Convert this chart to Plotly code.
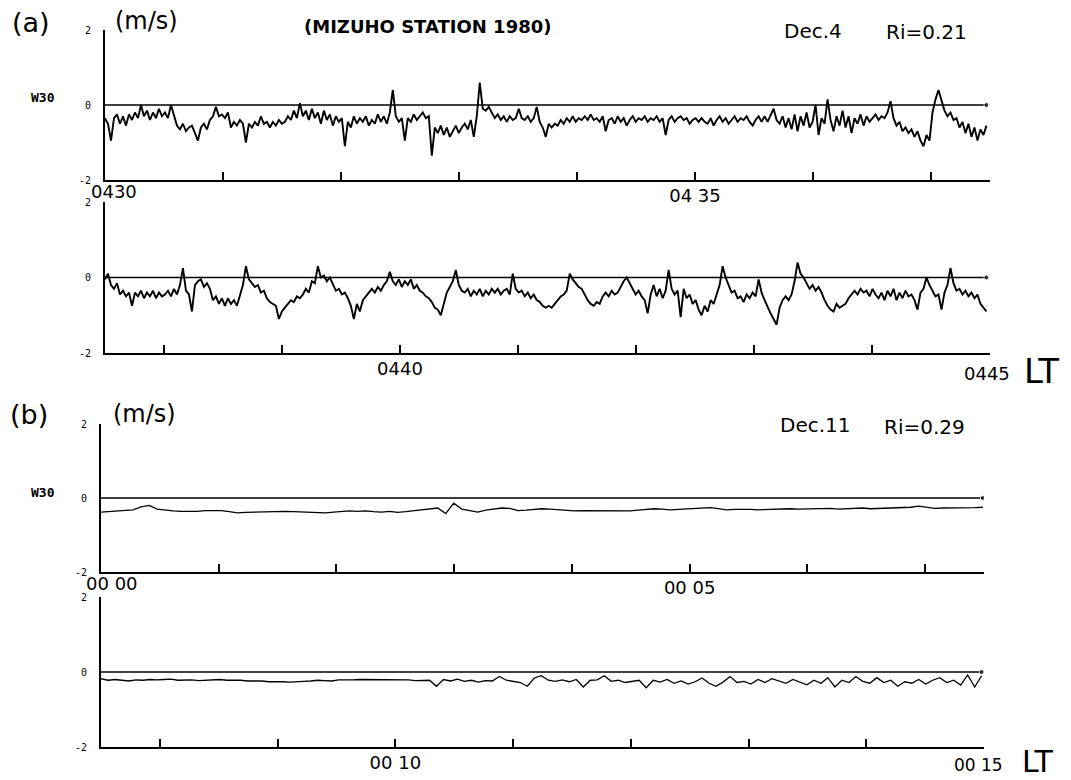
import numpy as np
import plotly.graph_objects as go

W, H = 1071, 780

# ---------------- data (m/s), read from the record ----------------
# (a) Dec.4, strip 1: 0430-0437:30 LT
a1_w30 = [
    -0.35,-0.5,-0.95,-0.35,-0.25,-0.5,-0.3,-0.55,-0.25,-0.4,-0.2,-0.35,0.0,-0.3,-0.15,-0.4,-0.2,-0.35,-0.1,-0.3,
    -0.2,-0.35,0.0,-0.3,-0.55,-0.65,-0.5,-0.7,-0.6,-0.55,-0.75,-0.95,-0.6,-0.5,-0.65,-0.4,-0.3,-0.05,-0.3,-0.25,
    -0.35,-0.2,-0.6,-0.45,-0.55,-0.4,-0.5,-1.0,-0.5,-0.6,-0.45,-0.55,-0.3,-0.5,-0.45,-0.6,-0.45,-0.55,-0.4,-0.5,
    -0.45,-0.3,-0.4,-0.15,-0.35,0.05,-0.3,-0.15,-0.4,-0.1,-0.35,-0.2,-0.5,-0.15,-0.4,-0.25,-0.55,-0.3,-0.45,-0.35,
    -1.1,-0.45,-0.6,-0.3,-0.5,-0.35,-0.45,-0.3,-0.55,-0.4,-0.5,-0.25,-0.45,-0.3,-0.5,-0.2,0.4,-0.3,-0.45,-0.35,
    -0.95,-0.35,-0.45,-0.25,-0.4,-0.3,-0.2,-0.35,-0.3,-1.35,-0.6,-0.75,-0.55,-0.8,-0.6,-0.85,-0.7,-0.55,-0.75,-0.6,
    -0.5,-0.65,-0.4,-0.85,-0.3,0.6,-0.1,-0.15,-0.05,-0.2,-0.35,-0.25,-0.4,-0.3,-0.45,-0.3,-0.4,-0.35,-0.1,-0.35,
    -0.4,-0.3,-0.45,-0.35,-0.05,-0.45,-0.6,-0.85,-0.5,-0.6,-0.5,-0.55,-0.4,-0.5,-0.35,-0.45,-0.3,-0.45,-0.35,-0.4,
    -0.3,-0.4,-0.25,-0.4,-0.35,-0.45,-0.3,-0.7,-0.4,-0.35,-0.5,-0.3,-0.45,-0.35,-0.55,-0.4,-0.3,-0.45,-0.35,-0.4,
    -0.3,-0.45,-0.35,-0.4,-0.3,-0.45,-0.35,-0.8,-0.4,-0.3,-0.45,-0.35,-0.3,-0.4,-0.35,-0.5,-0.4,-0.35,-0.45,-0.35,
    -0.45,-0.5,-0.35,-0.55,-0.4,-0.3,-0.45,-0.35,-0.5,-0.4,-0.3,-0.45,-0.35,-0.4,-0.3,-0.45,-0.55,-0.4,-0.3,-0.45,
    -0.3,-0.45,-0.25,-0.1,-0.4,-0.5,-0.3,-0.6,-0.35,-0.65,-0.25,-0.7,-0.3,-0.55,-0.2,-0.6,-0.45,0.0,-0.8,-0.35,
    -0.5,0.15,-0.4,-0.7,-0.3,-0.55,-0.15,-0.6,-0.3,-0.75,-0.35,-0.5,-0.25,-0.55,-0.3,-0.45,-0.35,-0.25,-0.4,-0.3,
    -0.35,-0.2,0.1,-0.35,-0.55,-0.45,-0.7,-0.6,-0.75,-0.65,-0.85,-0.7,-0.95,-1.1,-0.8,-0.95,-0.2,0.15,0.4,0.1,
    -0.15,-0.3,-0.2,-0.4,-0.35,-0.6,-0.45,-0.75,-0.5,-0.85,-0.6,-0.95,-0.65,-0.8,-0.55]
# (a) Dec.4, strip 2: 0437:30-0445 LT
a2_w30 = [
    -0.05,0.1,-0.2,-0.3,-0.15,-0.45,-0.35,-0.5,-0.4,-0.75,-0.4,-0.5,-0.35,-0.55,-0.4,-0.5,-0.35,-0.55,-0.4,-0.5,
    -0.45,-0.35,-0.5,-0.3,-0.45,-0.2,0.25,-0.35,-0.45,-0.9,-0.2,-0.1,-0.05,-0.25,-0.15,-0.3,-0.6,-0.5,-0.7,-0.55,
    -0.75,-0.55,-0.7,-0.6,-0.75,-0.5,-0.2,0.3,-0.05,-0.15,-0.25,-0.2,-0.4,-0.35,-0.55,-0.65,-0.7,-0.75,-1.1,-0.9,
    -0.8,-0.7,-0.6,-0.65,-0.5,-0.55,-0.45,-0.3,-0.4,-0.1,-0.15,0.3,0.0,0.05,-0.1,0.0,-0.2,-0.35,-0.3,-0.45,
    -0.4,-0.55,-0.75,-1.1,-0.7,-0.9,-0.6,-0.5,-0.4,-0.3,-0.4,-0.25,-0.35,-0.2,-0.1,0.15,-0.1,-0.2,-0.05,-0.25,
    -0.1,-0.2,-0.05,-0.3,-0.2,-0.35,-0.4,-0.5,-0.55,-0.65,-0.8,-0.85,-1.0,-0.7,-0.4,-0.25,-0.1,0.2,-0.2,-0.35,
    -0.4,-0.3,-0.5,-0.35,-0.45,-0.3,-0.5,-0.35,-0.45,-0.3,-0.4,-0.3,-0.45,-0.35,-0.3,-0.45,0.1,-0.3,-0.4,-0.35,
    -0.5,-0.4,-0.55,-0.45,-0.6,-0.65,-0.75,-0.8,-0.75,-0.8,-0.7,-0.6,-0.5,-0.45,-0.35,0.1,-0.05,-0.15,-0.25,-0.3,
    -0.45,-0.6,-0.7,-0.75,-0.65,-0.7,-0.5,-0.4,-0.5,-0.35,-0.45,-0.4,-0.25,-0.1,0.0,-0.15,-0.3,-0.45,-0.35,-0.5,
    -0.6,-0.95,-0.45,-0.2,-0.5,-0.3,-0.55,-0.35,0.2,-0.3,-0.45,-0.35,-1.05,-0.3,-0.55,-0.45,-0.7,-0.6,-0.85,-1.0,
    -0.75,-0.9,-0.6,-0.7,-0.45,-0.2,0.3,0.0,-0.2,-0.4,-0.35,-0.55,-0.5,-0.65,-0.45,-0.55,-0.4,-0.5,-0.05,-0.4,
    -0.6,-0.8,-0.95,-1.1,-1.25,-0.8,-0.6,-0.5,-0.6,-0.45,-0.1,0.4,0.1,0.0,-0.15,-0.3,-0.2,-0.35,-0.25,-0.4,
    -0.6,-0.75,-0.85,-0.9,-0.7,-0.8,-0.75,-0.7,-0.55,-0.45,-0.35,-0.45,-0.3,-0.4,-0.35,-0.5,-0.3,-0.45,-0.55,-0.4,
    -0.6,-0.35,-0.5,-0.3,-0.6,-0.4,-0.55,-0.35,-0.5,-0.45,-0.6,-0.85,-0.4,-0.3,0.0,-0.2,-0.35,-0.5,-0.45,-0.85,
    -0.4,-0.2,0.25,-0.15,-0.35,-0.3,-0.45,-0.35,-0.5,-0.4,-0.55,-0.45,-0.7,-0.8,-0.9]
# (b) Dec.11, strip 1: 0000-0007:30 LT
b1_w30 = [
    -0.38,-0.37,-0.36,-0.35,-0.32,-0.24,-0.2,-0.3,-0.33,-0.35,-0.36,-0.37,-0.36,-0.34,-0.33,-0.34,
    -0.37,-0.4,-0.39,-0.38,-0.37,-0.37,-0.36,-0.36,-0.37,-0.38,-0.39,-0.38,-0.4,-0.38,-0.36,-0.35,
    -0.36,-0.35,-0.37,-0.38,-0.36,-0.39,-0.37,-0.34,-0.33,-0.3,-0.27,-0.42,-0.14,-0.3,-0.35,-0.38,
    -0.33,-0.3,-0.27,-0.28,-0.34,-0.33,-0.3,-0.29,-0.3,-0.32,-0.34,-0.35,-0.34,-0.34,-0.35,-0.36,
    -0.36,-0.35,-0.35,-0.33,-0.3,-0.29,-0.3,-0.32,-0.31,-0.3,-0.29,-0.27,-0.26,-0.29,-0.32,-0.31,
    -0.3,-0.31,-0.32,-0.31,-0.3,-0.3,-0.29,-0.3,-0.29,-0.3,-0.29,-0.28,-0.3,-0.29,-0.28,-0.27,
    -0.29,-0.28,-0.27,-0.28,-0.27,-0.25,-0.22,-0.25,-0.28,-0.27,-0.27,-0.28,-0.26,-0.26,-0.25]
# (b) Dec.11, strip 2: 0007:30-0015 LT
b2_w30 = [
    -0.18,-0.22,-0.2,-0.21,-0.24,-0.21,-0.22,-0.2,-0.21,-0.2,-0.19,-0.22,-0.21,-0.21,-0.23,-0.22,
    -0.21,-0.2,-0.22,-0.21,-0.22,-0.24,-0.23,-0.24,-0.26,-0.25,-0.26,-0.27,-0.25,-0.25,-0.24,-0.22,
    -0.23,-0.24,-0.21,-0.22,-0.21,-0.2,-0.2,-0.21,-0.21,-0.2,-0.21,-0.22,-0.21,-0.23,-0.22,-0.22,
    -0.38,-0.2,-0.24,-0.19,-0.25,-0.22,-0.27,-0.23,-0.24,-0.12,-0.22,-0.24,-0.28,-0.38,-0.16,-0.1,
    -0.22,-0.25,-0.21,-0.26,-0.2,-0.4,-0.22,-0.21,-0.1,-0.25,-0.22,-0.28,-0.24,-0.22,-0.42,-0.22,
    -0.27,-0.2,-0.3,-0.24,-0.32,-0.26,-0.16,-0.3,-0.38,-0.27,-0.12,-0.28,-0.25,-0.32,-0.2,-0.28,
    -0.18,-0.25,-0.3,-0.2,-0.28,-0.34,-0.22,-0.3,-0.15,-0.4,-0.22,-0.28,-0.12,-0.25,-0.3,-0.15,
    -0.28,-0.22,-0.38,-0.26,-0.3,-0.2,-0.32,-0.22,-0.15,-0.28,-0.22,-0.35,-0.08,-0.4,-0.1]

# time spans of each strip (minutes after the start hour mark)
a_spans = [(0.0, 7.47), (7.5, 14.97)]
b_spans = [(0.0, 7.49), (7.5, 14.98)]

a_tick_labels = {5: "04 35", 10: "0440"}
b_tick_labels = {5: "00 05", 10: "00 10"}

# ---------------- layout helpers ----------------
def px(x):
    return x / W

def py(y):
    return 1 - y / H

rows = [
    # (values, span, x pixel domain, y pixel domain (top,bottom), x range, end tick, labels)
    (a1_w30, a_spans[0], (105, 990), (30, 180), (0, 7.5), False, a_tick_labels),
    (a2_w30, a_spans[1], (105, 990), (202, 353), (7.5, 15), True, a_tick_labels),
    (b1_w30, b_spans[0], (101, 984), (424, 572), (0, 7.5), False, b_tick_labels),
    (b2_w30, b_spans[1], (101, 984), (597, 747), (7.5, 15), True, b_tick_labels),
]

SANS = "DejaVu Sans, Liberation Sans, sans-serif"
MONO = "DejaVu Sans Mono, monospace"

fig = go.Figure()
layout = dict(
    width=W, height=H, margin=dict(l=0, r=0, t=0, b=0, autoexpand=False),
    paper_bgcolor="white", plot_bgcolor="white", showlegend=False,
    font=dict(family=SANS, color="black"),
)

for i, (vals, span, xd, yd, xr, endtick, labels) in enumerate(rows):
    k = "" if i == 0 else str(i + 1)
    t = np.linspace(span[0], span[1], len(vals))
    lw = 1.9 if i < 2 else 1.3
    # zero reference line with end dot
    fig.add_trace(go.Scatter(x=[xr[0], span[1]], y=[0, 0], mode="lines+markers",
                             line=dict(color="black", width=1.6),
                             marker=dict(size=[0, 5], color="black"),
                             xaxis="x" + k, yaxis="y" + k, hoverinfo="skip"))
    fig.add_trace(go.Scatter(x=t, y=vals, mode="lines",
                             line=dict(color="black", width=lw),
                             xaxis="x" + k, yaxis="y" + k))
    lo, hi = xr
    tv = [m for m in range(int(np.floor(lo)) + 1, int(hi) + 1) if (m < hi or endtick)]
    tt = [labels.get(m, "") for m in tv]
    layout["xaxis" + k] = dict(
        domain=[px(xd[0]), px(xd[1])], range=list(xr), anchor="y" + k, automargin=False,
        showline=True, linecolor="black", linewidth=2, showgrid=False, zeroline=False,
        ticks="inside", ticklen=8, tickwidth=1.6, tickcolor="black",
        tickvals=tv, ticktext=tt, ticklabelstandoff=-2,
        tickfont=dict(size=18, family=SANS),
    )
    layout["yaxis" + k] = dict(
        domain=[py(yd[1]), py(yd[0])], range=[-2, 2], anchor="x" + k, automargin=False,
        showline=True, linecolor="black", linewidth=2, showgrid=False, zeroline=False,
        ticks="", tickvals=[-2, 0, 2], ticktext=["-2", "0", "2"], ticklabelstandoff=10,
        tickfont=dict(size=10, family=MONO),
    )

fig.update_layout(**layout)

def ann(text, x, y, size, xanchor="left", bold=False, family=SANS):
    fig.add_annotation(text=("<b>%s</b>" % text) if bold else text, x=px(x), y=py(y),
                       xref="paper", yref="paper", xanchor=xanchor, yanchor="middle",
                       showarrow=False, font=dict(size=size, family=family, color="black"))

# panel (a)
ann("(a)", 10, 22, 27)
ann("(m/s)", 113, 21, 24)
ann("(MIZUHO STATION 1980)", 302, 27, 18, bold=True)
ann("Dec.4", 782, 31, 20)
ann("Ri=0.21", 884, 32, 20)
ann("W30", 29, 97, 13, bold=True, family=MONO)
ann("0430", 89, 191, 18)
ann("0445", 962, 373, 18)
ann("LT", 1022, 371, 34)
# panel (b)
ann("(b)", 8, 414, 27)
ann("(m/s)", 111, 414, 24)
ann("Dec.11", 778, 425, 20)
ann("Ri=0.29", 882, 427, 20)
ann("W30", 29, 492, 13, bold=True, family=MONO)
ann("00 00", 84, 583, 18)
ann("00 15", 952, 765, 17)
ann("LT", 1020, 761, 30)

fig.write_html("out.html")
